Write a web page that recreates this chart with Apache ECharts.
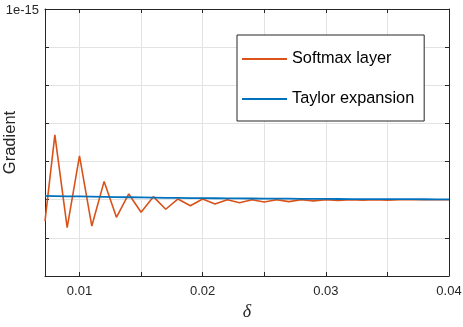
<!DOCTYPE html>
<html>
<head>
<meta charset="utf-8">
<script src="https://cdn.jsdelivr.net/npm/echarts@6/dist/echarts.min.js"></script>
<style>
html,body{margin:0;padding:0;background:#fff;}
#c{width:463px;height:327px;}
</style>
</head>
<body>
<div id="c"></div>
<script>
// Data (y in arbitrary axis units, axis labels hidden as in the reference)
const delta = [0.0072,0.008,0.009,0.010,0.011,0.012,0.013,0.014,0.015,0.016,0.017,0.018,0.019,0.020,
  0.021,0.022,0.023,0.024,0.025,0.026,0.027,0.028,0.029,0.030,0.031,0.032,0.033,0.034,0.035,0.036,0.037,0.038,0.039,0.040];
const softmax = [1.44,3.70,1.27,3.15,1.31,2.48,1.54,2.15,1.67,2.08,1.75,2.02,1.84,2.02,
  1.89,2.00,1.92,2.00,1.94,2.00,1.95,2.00,1.97,2.00,1.98,2.00,1.99,2.00,1.99,2.00,2.00,2.00,2.00,2.00];
const taylor = [2.10,2.095,2.09,2.085,2.08,2.075,2.07,2.065,2.06,2.055,2.05,2.047,2.044,2.04,
  2.038,2.036,2.034,2.032,2.03,2.028,2.026,2.024,2.022,2.02,2.019,2.018,2.017,2.016,2.015,2.014,2.013,2.012,2.011,2.01];
const xTicks = [0.01,0.015,0.02,0.025,0.03,0.035,0.04];
const xLabels = [0.01,0.02,0.03,0.04];
const seriesNames = ['Softmax layer','Taylor expansion'];
const exponentLabel = '1e-15';

const axisColor = '#262626';
const gridColor = '#e3e3e3';
const font = 'Liberation Sans, Arial, sans-serif';

const chart = echarts.init(document.getElementById('c'), null, {renderer:'canvas'});
const xBase = {
  type:'value', min:0.0072, max:0.04,
  axisLine:{show:true, onZero:false, lineStyle:{color:axisColor, width:1}},
  axisTick:{show:true, inside:true, length:4, customValues:xTicks, lineStyle:{color:axisColor}},
};
const yBase = {
  type:'value', min:0, max:7, interval:1,
  axisLine:{show:true, onZero:false, lineStyle:{color:axisColor, width:1}},
  axisTick:{show:true, inside:true, length:4, lineStyle:{color:axisColor}},
  axisLabel:{show:false}
};
chart.setOption({
  animation:false,
  backgroundColor:'#fff',
  grid:{left:45, right:14, top:9, bottom:51, containLabel:false, outerBoundsMode:'none'},
  xAxis:[
    Object.assign({}, xBase, {
      position:'bottom',
      name:'δ', nameLocation:'middle', nameGap:27,
      nameTextStyle:{fontFamily:'Liberation Serif, serif', fontStyle:'italic', fontSize:18, color:axisColor},
      axisLabel:{show:true, customValues:xLabels, margin:9, fontSize:13, fontFamily:font, color:axisColor},
      splitLine:{show:true, lineStyle:{color:gridColor, width:1}}
    }),
    Object.assign({}, xBase, {position:'top', axisLabel:{show:false}, splitLine:{show:false}})
  ],
  yAxis:[
    Object.assign({}, yBase, {
      position:'left',
      name:'Gradient', nameLocation:'middle', nameGap:26,
      nameTextStyle:{fontFamily:font, fontSize:16.5, color:axisColor},
      splitLine:{show:true, lineStyle:{color:gridColor, width:1}}
    }),
    Object.assign({}, yBase, {position:'right', splitLine:{show:false}})
  ],
  legend:{
    orient:'vertical', left:237, top:35,
    data:seriesNames.map(n=>({name:n, icon:'rect'})),
    backgroundColor:'#fff', borderColor:axisColor, borderWidth:1, borderRadius:0,
    padding:[16,10,14,5],
    itemWidth:45, itemHeight:2, itemGap:24,
    textStyle:{fontFamily:font, fontSize:16.3, color:'#000', lineHeight:16}
  },
  graphic:[{
    type:'text', x:39, y:10.5,
    style:{text:exponentLabel, font:'13px Liberation Sans, Arial, sans-serif', fill:axisColor, textAlign:'right', textVerticalAlign:'middle'}
  }],
  series:[
    {name:seriesNames[0], type:'line', data:delta.map((d,i)=>[d,softmax[i]]), showSymbol:false, symbol:'none',
     lineStyle:{color:'#D95319', width:1.6}, itemStyle:{color:'#D95319'}, clip:true},
    {name:seriesNames[1], type:'line', data:delta.map((d,i)=>[d,taylor[i]]), showSymbol:false, symbol:'none',
     lineStyle:{color:'#0072BD', width:1.8}, itemStyle:{color:'#0072BD'}, clip:true}
  ]
});
</script>
</body>
</html>
